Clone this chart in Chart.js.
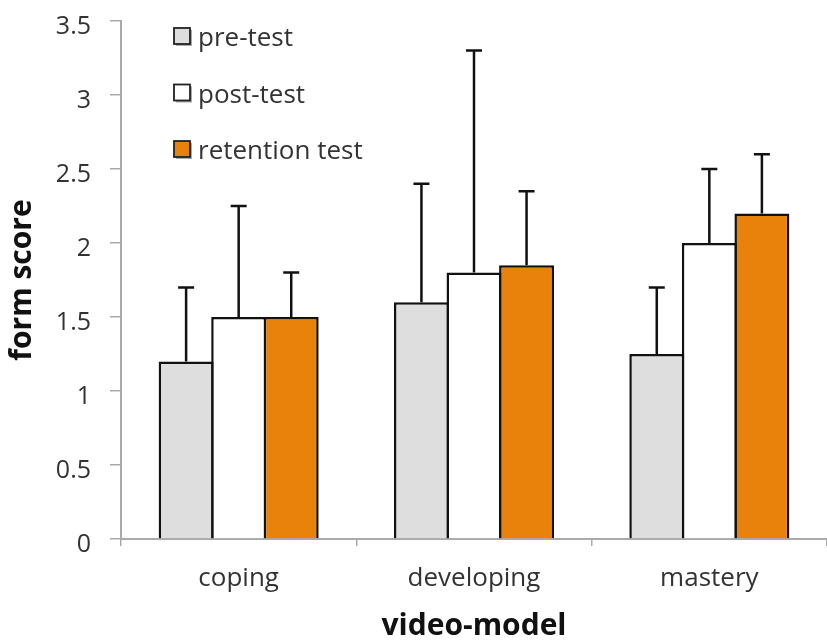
<!DOCTYPE html>
<html>
<head>
<meta charset="utf-8">
<script src="https://cdn.jsdelivr.net/npm/chart.js@4.4.1/dist/chart.umd.min.js"></script>
<style>
  html, body { margin: 0; padding: 0; background: #fff; }
  #wrap { width: 827px; height: 641px; }
</style>
</head>
<body>
<div id="wrap"><canvas id="formChart" width="827" height="641"></canvas></div>
<script>
// data
const categories = ['coping', 'developing', 'mastery'];
const seriesNames = ['pre-test', 'post-test', 'retention test'];
const preTest = [1.2, 1.6, 1.25];
const postTest = [1.5, 1.8, 2.0];
const retentionTest = [1.5, 1.85, 2.2];
// upper end of the error bars
const preTestErr = [1.7, 2.4, 1.7];
const postTestErr = [2.25, 3.3, 2.5];
const retentionTestErr = [1.8, 2.35, 2.6];
const yTicks = [0, 0.5, 1, 1.5, 2, 2.5, 3, 3.5];

const colors = ['#dedede', '#ffffff', '#e8820a'];
const fontFamily = '"Open Sans", "Noto Sans", sans-serif';

// Draw upper error bars on top of each bar
const errorBars = {
  id: 'errorBars',
  afterDatasetsDraw(chart) {
    const ctx = chart.ctx;
    const yScale = chart.scales.y;
    ctx.save();
    ctx.strokeStyle = '#111';
    ctx.lineWidth = 2.5;
    chart.data.datasets.forEach((ds, di) => {
      const meta = chart.getDatasetMeta(di);
      meta.data.forEach((bar, i) => {
        const top = yScale.getPixelForValue(ds.errTop[i]);
        ctx.beginPath();
        ctx.moveTo(bar.x, bar.y);
        ctx.lineTo(bar.x, top);
        ctx.moveTo(bar.x - 8, top);
        ctx.lineTo(bar.x + 8, top);
        ctx.stroke();
      });
    });
    ctx.restore();
  }
};

// Legend sits inside the plot, top left, stacked
const insideLegend = {
  id: 'insideLegend',
  afterDraw(chart) {
    const ctx = chart.ctx;
    const x0 = chart.chartArea.left + 53;
    const y0 = chart.chartArea.top + 15;
    ctx.save();
    ctx.font = '26px ' + fontFamily;
    ctx.textBaseline = 'alphabetic';
    chart.data.datasets.forEach((ds, i) => {
      const cy = y0 + i * 56.5;
      // soft shadow like the original
      ctx.fillStyle = '#aaa';
      ctx.fillRect(x0 + 2, cy - 6, 16, 16);
      ctx.fillStyle = ds.backgroundColor;
      ctx.fillRect(x0, cy - 8, 16, 16);
      ctx.strokeStyle = '#222';
      ctx.lineWidth = 1.8;
      ctx.strokeRect(x0, cy - 8, 16, 16);
      ctx.fillStyle = '#333';
      ctx.fillText(ds.label, x0 + 24, cy + 10);
    });
    ctx.restore();
  }
};

const values = [preTest, postTest, retentionTest];
const errs = [preTestErr, postTestErr, retentionTestErr];

const ctx = document.getElementById('formChart').getContext('2d');
const formChart = new Chart(ctx, {
  type: 'bar',
  data: {
    labels: categories,
    datasets: seriesNames.map((name, i) => ({
      label: name,
      data: values[i],
      errTop: errs[i],
      backgroundColor: colors[i],
      borderColor: '#111',
      borderWidth: 2.5,
      borderSkipped: 'bottom',
      categoryPercentage: 0.67,
      barPercentage: 1.045
    }))
  },
  options: {
    responsive: false,
    animation: false,
    layout: { autoPadding: false, padding: { top: 21, right: -5, left: 0, bottom: 0 } },
    plugins: {
      legend: { display: false },
      tooltip: { enabled: false }
    },
    scales: {
      x: {
        grid: {
          display: true,
          offset: true,
          drawOnChartArea: false,
          drawTicks: true,
          tickLength: 7,
          lineWidth: 1.5,
          color: '#aaa'
        },
        border: { display: true, color: '#aaa', width: 2 },
        ticks: {
          color: '#333',
          padding: 17,
          font: { family: fontFamily, size: 26 }
        },
        title: {
          display: true,
          text: 'video-model',
          color: '#111',
          font: { family: fontFamily, size: 30, weight: 'bold' },
          padding: { top: 0, bottom: -3 }
        },
        afterFit(scale) {
          scale.height = 102;
          scale.paddingLeft = 0;
          scale.paddingRight = 0;
        }
      },
      y: {
        min: 0,
        max: 3.5,
        afterBuildTicks(scale) {
          scale.ticks = yTicks.map(v => ({ value: v }));
        },
        grid: {
          display: true,
          drawOnChartArea: false,
          drawTicks: true,
          tickLength: 11,
          lineWidth: 1.5,
          color: '#aaa'
        },
        border: { display: true, color: '#aaa', width: 2 },
        ticks: {
          color: '#333',
          padding: 19,
          labelOffset: 6,
          font: { family: fontFamily, size: 25 },
          callback: v => String(v)
        },
        title: {
          display: true,
          text: 'form score',
          color: '#111',
          font: { family: fontFamily, size: 30, weight: 'bold' },
          padding: { top: 4, bottom: 0 }
        },
        afterFit(scale) {
          scale.width = 121;
          scale.paddingTop = 0;
          scale.paddingBottom = 0;
        }
      }
    }
  },
  plugins: [errorBars, insideLegend]
});
</script>
</body>
</html>
